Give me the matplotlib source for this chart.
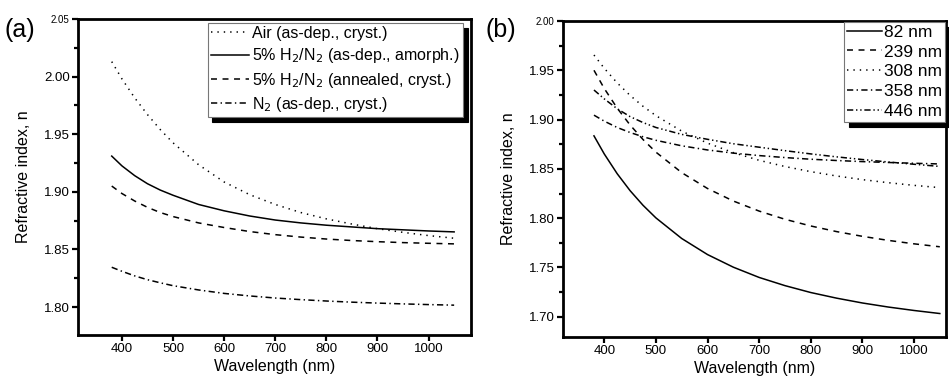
import matplotlib
matplotlib.use("Agg")
import matplotlib.pyplot as plt
from matplotlib.ticker import MultipleLocator, FormatStrFormatter

plt.rcParams['font.family'] = ['Liberation Sans', 'DejaVu Sans']
plt.rcParams['lines.scale_dashes'] = False

# ---- data ----
wl_a = [380, 400, 425, 450, 475, 500, 550, 600, 650, 700, 750, 800, 850, 900, 950, 1000, 1050]
n_air = [2.013, 1.998, 1.9815, 1.967, 1.954, 1.9425, 1.9235, 1.9085, 1.8975, 1.889, 1.882,
         1.8765, 1.872, 1.868, 1.8648, 1.862, 1.8597]
n_h2_amorph = [1.931, 1.9225, 1.914, 1.907, 1.9015, 1.897, 1.889, 1.8835, 1.879, 1.8755, 1.873,
               1.871, 1.8695, 1.868, 1.867, 1.866, 1.8652]
n_h2_anneal = [1.905, 1.8985, 1.892, 1.8865, 1.882, 1.8785, 1.873, 1.869, 1.8655, 1.8628, 1.8607,
               1.859, 1.8577, 1.8567, 1.8559, 1.8553, 1.8548]
n_n2 = [1.8345, 1.831, 1.827, 1.8237, 1.821, 1.8185, 1.8148, 1.8118, 1.8096, 1.8078, 1.8064,
        1.8052, 1.8042, 1.8034, 1.8027, 1.8021, 1.8016]
labels_a = ['Air (as-dep., cryst.)',
            r'5% H$_2$/N$_2$ (as-dep., amorph.)',
            r'5% H$_2$/N$_2$ (annealed, cryst.)',
            r'N$_2$ (as-dep., cryst.)']

wl_b = [380, 400, 425, 450, 475, 500, 550, 600, 650, 700, 750, 800, 850, 900, 950, 1000, 1050]
n_82 = [1.8835, 1.8651, 1.8451, 1.8279, 1.8131, 1.8003, 1.7794, 1.7631, 1.7503, 1.7399, 1.7316,
        1.7246, 1.7189, 1.7140, 1.7099, 1.7064, 1.7033]
n_239 = [1.950, 1.9315, 1.9116, 1.8945, 1.8798, 1.867, 1.8462, 1.8301, 1.8174, 1.8072, 1.7989,
         1.7921, 1.7864, 1.7816, 1.7775, 1.7740, 1.771]
n_308 = [1.9655, 1.952, 1.9372, 1.9245, 1.9135, 1.904, 1.8883, 1.8761, 1.8665, 1.8587, 1.8524,
         1.8472, 1.8428, 1.8391, 1.836, 1.8333, 1.831]
n_358 = [1.9045, 1.8984, 1.892, 1.8869, 1.8826, 1.879, 1.8734, 1.8692, 1.866, 1.8635, 1.8615,
         1.8598, 1.8585, 1.8574, 1.8565, 1.8557, 1.855]
n_446 = [1.930, 1.921, 1.911, 1.903, 1.897, 1.892, 1.885, 1.880, 1.8755, 1.872, 1.8685,
         1.8652, 1.8622, 1.8595, 1.857, 1.8547, 1.8525]
labels_b = ['82 nm', '239 nm', '308 nm', '358 nm', '446 nm']

# dash styles (points)
DOT = (0, (1.0, 3.6))
DASH = (0, (4.3, 4.0))
DASHDOT = (0, (4.5, 2.4, 1.0, 2.4))
DASHDOTDOT = (0, (4.5, 2.0, 1.0, 2.0, 1.0, 2.0))
SOLID = '-'

fig = plt.figure(figsize=(9.49, 3.85), dpi=100)
ax1 = fig.add_axes([78/949, 1-335/385, 393/949, 316/385])
ax2 = fig.add_axes([563/949, 1-336.5/385, 383/949, 315.5/385])

lw = 1.1
ax1.plot(wl_a, n_air, color='k', lw=lw, linestyle=DOT, label=labels_a[0])
ax1.plot(wl_a, n_h2_amorph, color='k', lw=lw, linestyle=SOLID, label=labels_a[1])
ax1.plot(wl_a, n_h2_anneal, color='k', lw=lw, linestyle=DASH, label=labels_a[2])
ax1.plot(wl_a, n_n2, color='k', lw=lw, linestyle=DASHDOT, label=labels_a[3])

ax2.plot(wl_b, n_82, color='k', lw=lw, linestyle=SOLID, label=labels_b[0])
ax2.plot(wl_b, n_239, color='k', lw=lw, linestyle=DASH, label=labels_b[1])
ax2.plot(wl_b, n_308, color='k', lw=lw, linestyle=DOT, label=labels_b[2])
ax2.plot(wl_b, n_358, color='k', lw=lw, linestyle=DASHDOT, label=labels_b[3])
ax2.plot(wl_b, n_446, color='k', lw=lw, linestyle=DASHDOTDOT, label=labels_b[4])

ax1.set_xlim(314, 1083)
ax1.set_ylim(1.7757, 2.05)
ax2.set_xlim(320, 1062)
ax2.set_ylim(1.68, 2.00)

for ax in (ax1, ax2):
    for s in ax.spines.values():
        s.set_linewidth(2.0)
    ax.xaxis.set_major_locator(MultipleLocator(100))
    ax.yaxis.set_major_locator(MultipleLocator(0.05))
    ax.yaxis.set_minor_locator(MultipleLocator(0.025))
    ax.tick_params(which='major', direction='out', length=4, width=1.6, labelsize=9.5, pad=2,
                   top=False, right=False)
    ax.tick_params(which='minor', direction='out', length=3, width=1.6, top=False, right=False)
    ax.tick_params(axis='x', which='minor', bottom=False)
    ax.set_xlabel('Wavelength (nm)', fontsize=11.5, labelpad=3)
    ax.set_ylabel('Refractive index, n', fontsize=11.5, labelpad=9)
    ax.yaxis.set_major_formatter(FormatStrFormatter('%.2f'))

fig.canvas.draw()
for ax, top in ((ax1, 2.05), (ax2, 2.00)):
    for t, loc in zip(ax.get_yticklabels(), ax.get_yticks()):
        if abs(loc - top) < 1e-6:
            t.set_fontsize(7)

shadow = {'color': 'black', 'alpha': 1.0, 'ox': 3.5, 'oy': -3.5}
leg1 = ax1.legend(loc='upper right', bbox_to_anchor=(0.98, 0.988), fontsize=11.5,
                  handlelength=2.4, handletextpad=0.2, labelspacing=0.33,
                  borderpad=0.2, borderaxespad=0.0, fancybox=False, framealpha=1,
                  edgecolor='#777777', shadow=shadow)
leg1.get_frame().set_linewidth(0.8)

leg2 = ax2.legend(loc='upper right', bbox_to_anchor=(0.997, 0.997), fontsize=12.5,
                  handlelength=2.0, handletextpad=0.15, labelspacing=0.27,
                  borderpad=0.15, borderaxespad=0.0, fancybox=False, framealpha=1,
                  edgecolor='#777777', shadow=shadow)
leg2.get_frame().set_linewidth(0.8)

fig.text(5/949, 1-30/385, '(a)', fontsize=18, va='center', ha='left')
fig.text(486/949, 1-30/385, '(b)', fontsize=18, va='center', ha='left')

fig.savefig('out.png', dpi=100)
